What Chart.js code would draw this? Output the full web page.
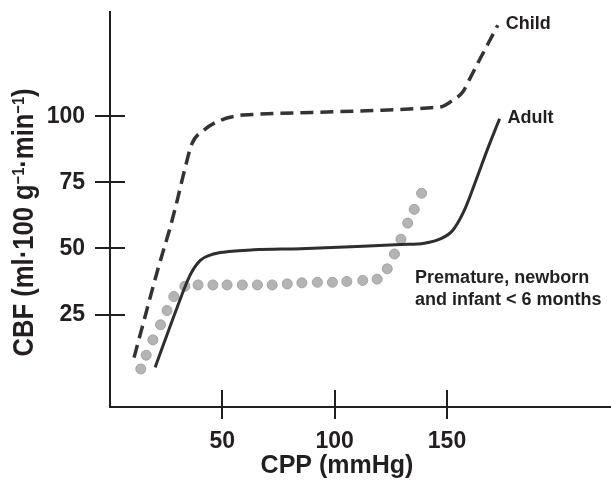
<!DOCTYPE html>
<html>
<head>
<meta charset="utf-8">
<title>CBF autoregulation</title>
<script src="https://cdn.jsdelivr.net/npm/chart.js@4.4.1/dist/chart.umd.min.js"></script>
<style>
  html, body { margin: 0; padding: 0; background: #fff; }
  canvas { display: block; }
</style>
</head>
<body>
<canvas id="cbfChart" width="611" height="485"></canvas>
<script>
// values: CPP (mmHg) against CBF (ml/100 g/min)
const childCpp = [10.7, 16.0, 21.6, 26.8, 30.0, 33.0, 36.5, 41.7, 49.1, 58.0, 65.5, 90.0, 120.5, 142.9, 148.1, 152.5, 157.0, 160.0, 163.7, 168.2, 172.6];
const childCbf = [8.7, 25.5, 43.0, 58.0, 68.5, 79.0, 89.7, 94.7, 98.5, 100.4, 100.8, 101.5, 102.3, 103.3, 103.8, 106.1, 109.2, 114.0, 120.1, 127.4, 134.5];

const adultCpp = [20.1, 29.8, 35.7, 40.2, 45.0, 50.6, 64.0, 84.8, 110.0, 129.5, 139.9, 147.3, 152.5, 157.7, 163.0, 168.0, 173.4];
const adultCbf = [5.0, 27.5, 40.0, 45.5, 47.6, 48.6, 49.5, 49.9, 50.7, 51.5, 52.0, 53.7, 56.8, 64.4, 76.0, 87.5, 99.1];

const infantCpp = [13.7, 16.1, 19.1, 22.5, 25.4, 28.4, 33.3, 39.2, 45.8, 52.1, 58.9, 65.6, 72.2, 78.9, 85.4, 92.3, 99.0, 105.4, 112.5, 118.9, 123.4, 126.6, 129.5, 132.5, 135.4, 138.7];
const infantCbf = [4.4, 9.6, 15.4, 21.1, 26.5, 31.8, 35.7, 36.2, 36.2, 36.2, 36.2, 36.2, 36.2, 36.6, 37.0, 37.2, 37.2, 37.5, 37.9, 38.4, 42.3, 47.9, 53.5, 59.6, 64.8, 70.9];

const xTicks = [50, 100, 150];
const yTicks = [25, 50, 75, 100];
const infantLabel = ['Premature, newborn', 'and infant < 6 months'];
const infantLabelAt = [135.8, 38.8];

const ink = '#231f20';
const fontFamily = "'Liberation Sans', Arial, Helvetica, sans-serif";
Chart.defaults.font.family = fontFamily;

function points(xs, ys) {
    return xs.map((v, i) => ({ x: v, y: ys[i] }));
}

// inner half of the tick marks, curve labels and axis titles
const decorations = {
    id: 'decorations',
    afterDraw(chart) {
        const { ctx, chartArea: area, scales: { x, y } } = chart;
        ctx.save();

        ctx.strokeStyle = ink;
        ctx.lineWidth = 2;
        ctx.beginPath();
        xTicks.forEach(v => {
            const px = Math.round(x.getPixelForValue(v));
            ctx.moveTo(px, area.bottom);
            ctx.lineTo(px, area.bottom - 17);
        });
        yTicks.forEach(v => {
            const py = Math.round(y.getPixelForValue(v));
            ctx.moveTo(area.left, py);
            ctx.lineTo(area.left + 15, py);
        });
        ctx.stroke();

        ctx.fillStyle = ink;
        ctx.font = 'bold 18px ' + fontFamily;
        ctx.textAlign = 'left';
        ctx.textBaseline = 'middle';
        [0, 1].forEach(i => {
            const meta = chart.getDatasetMeta(i);
            const last = meta.data[meta.data.length - 1];
            ctx.fillText(chart.data.datasets[i].label, last.x + 8, last.y - 1);
        });
        const lx = x.getPixelForValue(infantLabelAt[0]);
        const ly = y.getPixelForValue(infantLabelAt[1]);
        infantLabel.forEach((t, i) => ctx.fillText(t, lx, ly + i * 22));

        // x title
        ctx.font = 'bold 25px ' + fontFamily;
        ctx.textAlign = 'center';
        ctx.fillText('CPP (mmHg)', area.left + 227, area.bottom + 59);

        // y title with superscripts, slightly condensed like the original
        const big = 'bold 30px ' + fontFamily;
        const small = 'bold 17px ' + fontFamily;
        const parts = [
            { t: 'CBF (ml\u00b7100 g', f: big, rise: 0 },
            { t: '\u22121', f: small, rise: 6 },
            { t: '\u00b7min', f: big, rise: 0 },
            { t: '\u22121', f: small, rise: 6 },
            { t: ')', f: big, rise: 0 }
        ];
        let total = 0;
        parts.forEach(p => {
            ctx.font = p.f;
            p.w = ctx.measureText(p.t).width;
            total += p.w;
        });
        ctx.translate(area.left - 85, (area.top + area.bottom) / 2 + 13);
        ctx.rotate(-Math.PI / 2);
        ctx.scale(268 / total, 1);
        ctx.textAlign = 'left';
        let pos = -total / 2;
        parts.forEach(p => {
            ctx.font = p.f;
            ctx.fillText(p.t, pos, -p.rise);
            pos += p.w;
        });

        ctx.restore();
    }
};

new Chart(document.getElementById('cbfChart'), {
    type: 'scatter',
    data: {
        datasets: [
            {
                label: 'Child',
                data: points(childCpp, childCbf),
                showLine: true,
                borderColor: '#333333',
                borderWidth: 3.5,
                borderDash: [13, 7],
                pointRadius: 0,
                cubicInterpolationMode: 'monotone'
            },
            {
                label: 'Adult',
                data: points(adultCpp, adultCbf),
                showLine: true,
                borderColor: '#2e2e2e',
                borderWidth: 3,
                pointRadius: 0,
                cubicInterpolationMode: 'monotone'
            },
            {
                label: 'Premature, newborn and infant < 6 months',
                data: points(infantCpp, infantCbf),
                showLine: false,
                pointRadius: 5,
                pointBackgroundColor: '#b4b4b4',
                pointBorderColor: '#a2a2a2',
                pointBorderWidth: 1
            }
        ]
    },
    options: {
        responsive: false,
        animation: false,
        layout: { autoPadding: false, padding: { top: 12, left: 0, right: 0, bottom: 0 } },
        plugins: { legend: { display: false }, tooltip: { enabled: false } },
        scales: {
            x: {
                type: 'linear',
                min: 0,
                max: 223,
                afterBuildTicks: scale => { scale.ticks = xTicks.map(v => ({ value: v })); },
                afterFit: scale => {
                    scale.height = 78;
                    scale.paddingLeft = 0;
                    scale.paddingRight = 0;
                },
                ticks: {
                    color: ink,
                    font: { size: 23, weight: 'bold' },
                    padding: 9,
                    maxRotation: 0
                },
                grid: { drawOnChartArea: false, drawTicks: true, tickLength: 12, lineWidth: 2, color: ink },
                border: { display: true, color: ink, width: 2 }
            },
            y: {
                type: 'linear',
                min: -10,
                max: 139.5,
                afterBuildTicks: scale => { scale.ticks = yTicks.map(v => ({ value: v })); },
                afterFit: scale => {
                    scale.width = 110;
                    scale.paddingTop = 0;
                    scale.paddingBottom = 0;
                },
                ticks: {
                    color: ink,
                    font: { size: 23, weight: 'bold' },
                    padding: 10
                },
                grid: { drawOnChartArea: false, drawTicks: true, tickLength: 15, lineWidth: 2, color: ink },
                border: { display: true, color: ink, width: 2 }
            }
        }
    },
    plugins: [decorations]
});
</script>
</body>
</html>
